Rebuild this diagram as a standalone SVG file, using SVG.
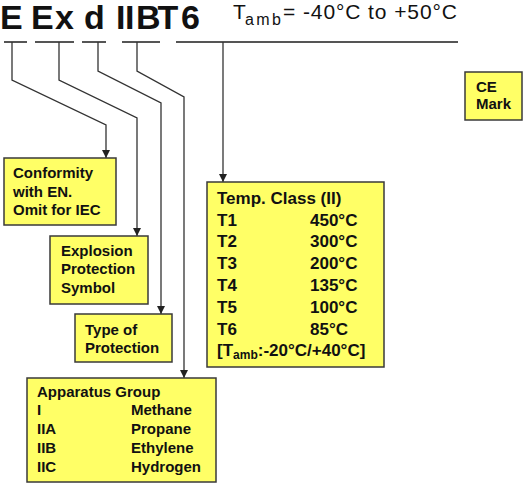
<svg xmlns="http://www.w3.org/2000/svg" width="524" height="484" viewBox="0 0 524 484">
<style>
  text { font-family: "Liberation Sans", Arial, sans-serif; fill: #111; }
  .b { font-weight: bold; font-size: 15px; }
  .t { font-weight: bold; font-size: 17px; }
  .box { fill: #FFFF66; stroke: #3a3a3a; stroke-width: 1.5; }
  .con { fill: none; stroke: #333; stroke-width: 1.3; }
  .ul { fill: none; stroke: #555; stroke-width: 2; }
</style>
<defs>
  <marker id="arr" viewBox="0 0 8 8" refX="8" refY="4" markerWidth="8" markerHeight="8" markerUnits="userSpaceOnUse" orient="auto">
    <path d="M0,0 L8,4 L0,8 Z" fill="#222"/>
  </marker>
</defs>

<g id="title">
  <text x="0 31 55 84 116 125 136 157.5 181" y="29" font-size="34" font-weight="bold">EExdIIBT6</text>
  <text y="19" font-size="21"><tspan x="233">T</tspan><tspan x="245" y="25" font-size="16" textLength="36" lengthAdjust="spacing">amb</tspan><tspan x="283" y="19" textLength="174" lengthAdjust="spacing">= -40°C to +50°C</tspan></text>
</g>

<g id="connectors">
  <path class="ul" d="M4,42 H27 M35,42 H74 M82,42 H106 M122,42 H160 M176,42 H458"/>
  <path class="con" d="M12,42 V80 L106,125 V158" marker-end="url(#arr)"/>
  <path class="con" d="M59,42 V80 L137,118 V236" marker-end="url(#arr)"/>
  <path class="con" d="M98,42 V71 L161,103 V314" marker-end="url(#arr)"/>
  <path class="con" d="M137,42 V71 L184,97 V378" marker-end="url(#arr)"/>
  <path class="con" d="M223,42 V182" marker-end="url(#arr)"/>
</g>

<g id="conformity">
  <rect class="box" x="4" y="158" width="112" height="67"/>
  <text class="b" x="13" y="178">Conformity</text>
  <text class="b" x="13" y="197">with EN.</text>
  <text class="b" x="13" y="215">Omit for IEC</text>
</g>

<g id="explosion">
  <rect class="box" x="50" y="236" width="98" height="68"/>
  <text class="b" x="61" y="256">Explosion</text>
  <text class="b" x="61" y="274">Protection</text>
  <text class="b" x="61" y="293">Symbol</text>
</g>

<g id="type">
  <rect class="box" x="75" y="314" width="97" height="48"/>
  <text class="b" x="85" y="335">Type of</text>
  <text class="b" x="85" y="353">Protection</text>
</g>

<g id="apparatus">
  <rect class="box" x="27" y="378" width="189" height="104"/>
  <text class="b" x="37" y="397" font-size="15.5">Apparatus Group</text>
  <text class="b" x="37" y="415">I</text><text class="b" x="131" y="415">Methane</text>
  <text class="b" x="37" y="434">IIA</text><text class="b" x="131" y="434">Propane</text>
  <text class="b" x="37" y="453">IIB</text><text class="b" x="131" y="453">Ethylene</text>
  <text class="b" x="37" y="472">IIC</text><text class="b" x="131" y="472">Hydrogen</text>
</g>

<g id="tempclass">
  <rect class="box" x="207" y="182" width="177" height="185"/>
  <text class="t" x="217" y="204">Temp. Class (II)</text>
  <text class="t" x="217" y="226">T1</text><text class="t" x="310" y="226">450°C</text>
  <text class="t" x="217" y="247">T2</text><text class="t" x="310" y="247">300°C</text>
  <text class="t" x="217" y="269">T3</text><text class="t" x="310" y="269">200°C</text>
  <text class="t" x="217" y="291">T4</text><text class="t" x="310" y="291">135°C</text>
  <text class="t" x="217" y="313">T5</text><text class="t" x="310" y="313">100°C</text>
  <text class="t" x="217" y="335">T6</text><text class="t" x="310" y="335">85°C</text>
  <text class="t" x="217" y="356">[T<tspan font-size="12" dy="3">amb</tspan><tspan dy="-3">:-20°C/+40°C]</tspan></text>
</g>

<g id="cemark">
  <rect class="box" x="465" y="72" width="57" height="48"/>
  <text class="b" x="476" y="92">CE</text>
  <text class="b" x="476" y="109">Mark</text>
</g>
</svg>
